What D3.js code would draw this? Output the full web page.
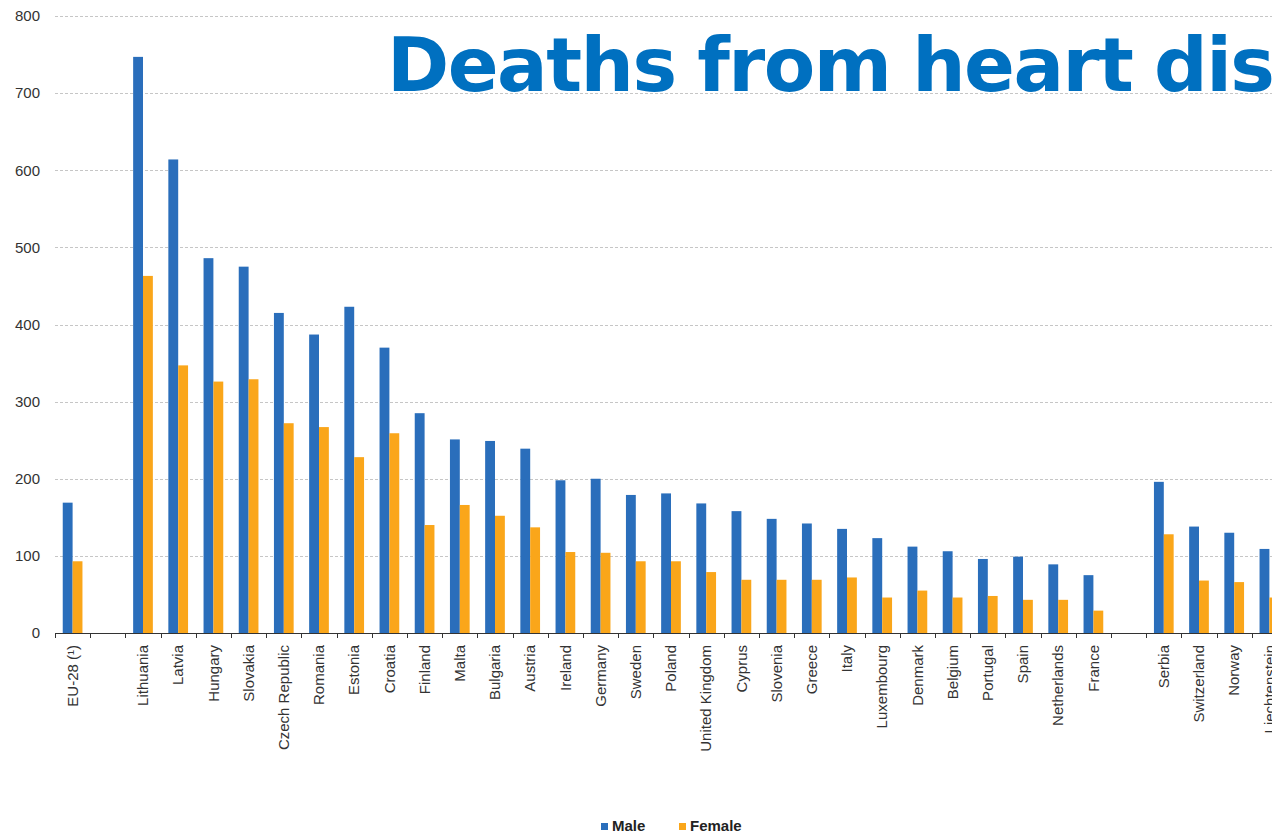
<!DOCTYPE html>
<html>
<head>
<meta charset="utf-8">
<script src="https://cdn.jsdelivr.net/npm/d3@7/dist/d3.min.js"></script>
<style>
	html, body { margin: 0; padding: 0; background: #ffffff; overflow: hidden; }
	svg { display: block; }
	.tick-label { font-family: "Liberation Sans", Arial, sans-serif; font-size: 15px; fill: #333333; }
	.legend-label { font-family: "Liberation Sans", Arial, sans-serif; font-size: 15px; font-weight: bold; fill: #222222; }
	.title { font-family: "DejaVu Sans", Verdana, sans-serif; font-weight: bold; font-size: 75px; fill: #0070c0; letter-spacing: -1.5px; word-spacing: -3px; }
</style>
</head>
<body>
<svg id="chart"></svg>
<script>
// Chart data.
var categories = ["EU-28 (\u00b9)", "", "Lithuania", "Latvia", "Hungary", "Slovakia", "Czech Republic", "Romania",
	"Estonia", "Croatia", "Finland", "Malta", "Bulgaria", "Austria", "Ireland", "Germany", "Sweden", "Poland",
	"United Kingdom", "Cyprus", "Slovenia", "Greece", "Italy", "Luxembourg", "Denmark", "Belgium", "Portugal",
	"Spain", "Netherlands", "France", "", "Serbia", "Switzerland", "Norway", "Liechtenstein"];
var maleValues = [169, null, 747, 614, 486, 475, 415, 387, 423, 370, 285, 251, 249, 239, 198, 200, 179, 181,
	168, 158, 148, 142, 135, 123, 112, 106, 96, 99, 89, 75, null, 196, 138, 130, 109];
var femaleValues = [93, null, 463, 347, 326, 329, 272, 267, 228, 259, 140, 166, 152, 137, 105, 104, 93, 93,
	79, 69, 69, 69, 72, 46, 55, 46, 48, 43, 43, 29, null, 128, 68, 66, 46];
var seriesNames = ["Male", "Female"];
var seriesColors = ["#2a6ebb", "#faa61a"];
var yTicks = [0, 100, 200, 300, 400, 500, 600, 700, 800];
var titleText = "Deaths from heart disease";

// Definitions.
var width = 1272;
var height = 835;
var plotLeft = 55;
var plotTop = 16;
var plotBottom = 633;
var bandStep = 35.2;

var svg = d3.select("#chart")
	.attr("width", width)
	.attr("height", height);

var x0 = d3.scaleBand()
	.domain(d3.range(categories.length))
	.range([plotLeft, plotLeft + bandStep * categories.length])
	.padding(0);
var xSub = d3.scaleBand()
	.domain(seriesNames)
	.range([x0.bandwidth() * 0.22, x0.bandwidth() * 0.78])
	.padding(0);
var y = d3.scaleLinear()
	.domain([0, 800])
	.range([plotBottom, plotTop]);

// Gridlines.
svg.append("g")
	.selectAll("line")
	.data(yTicks.filter(function(d) { return d > 0; }))
	.enter()
	.append("line")
	.attr("x1", plotLeft)
	.attr("x2", width)
	.attr("y1", function(d) { return Math.round(y(d)) + 0.5; })
	.attr("y2", function(d) { return Math.round(y(d)) + 0.5; })
	.attr("stroke", "#c6c6c6")
	.attr("stroke-dasharray", "3,2");

// Y axis labels.
var yAxis = svg.append("g")
	.attr("transform", "translate(" + plotLeft + ",0)")
	.call(d3.axisLeft(y).tickValues(yTicks).tickSize(0).tickPadding(15));
yAxis.select(".domain").remove();
yAxis.selectAll("text")
	.attr("class", "tick-label")
	.attr("font-family", null)
	.attr("font-size", null);

// Bars.
var groups = svg.append("g")
	.selectAll("g")
	.data(d3.range(categories.length).filter(function(i) { return maleValues[i] != null; }))
	.enter()
	.append("g")
	.attr("transform", function(i) { return "translate(" + x0(i) + ",0)"; });
groups.selectAll("rect")
	.data(function(i) { return [{ s: 0, v: maleValues[i] }, { s: 1, v: femaleValues[i] }]; })
	.enter()
	.append("rect")
	.attr("x", function(d) { return xSub(seriesNames[d.s]); })
	.attr("width", xSub.bandwidth())
	.attr("y", function(d) { return y(d.v); })
	.attr("height", function(d) { return plotBottom - y(d.v); })
	.attr("fill", function(d) { return seriesColors[d.s]; });

// X axis: labels at band centres, ticks on band boundaries.
var xAxis = svg.append("g")
	.attr("transform", "translate(0," + plotBottom + ")")
	.call(d3.axisBottom(x0).tickSize(0).tickFormat(function(i) { return categories[i]; }));
xAxis.select(".domain").remove();
xAxis.selectAll("text")
	.attr("class", "tick-label")
	.attr("font-family", null)
	.attr("font-size", null)
	.attr("transform", "rotate(-90)")
	.attr("x", -12)
	.attr("y", 0)
	.attr("dy", "0.35em")
	.style("text-anchor", "end");

svg.append("g")
	.selectAll("line")
	.data(d3.range(categories.length + 1))
	.enter()
	.append("line")
	.attr("x1", function(i) { return Math.round(plotLeft + i * x0.step()) + 0.5; })
	.attr("x2", function(i) { return Math.round(plotLeft + i * x0.step()) + 0.5; })
	.attr("y1", plotBottom)
	.attr("y2", plotBottom + 5)
	.attr("stroke", "#333333");

svg.append("line")
	.attr("x1", plotLeft)
	.attr("x2", width)
	.attr("y1", plotBottom + 0.5)
	.attr("y2", plotBottom + 0.5)
	.attr("stroke", "#333333");

// Legend.
var legendX = [601, 679];
var legend = svg.append("g")
	.selectAll("g")
	.data(seriesNames)
	.enter()
	.append("g")
	.attr("transform", function(d, i) { return "translate(" + legendX[i] + ",823)"; });
legend.append("rect")
	.attr("width", 7)
	.attr("height", 7)
	.attr("fill", function(d, i) { return seriesColors[i]; });
legend.append("text")
	.attr("class", "legend-label")
	.attr("x", 11)
	.attr("y", 8)
	.text(function(d) { return d; });

// Title (runs off the right edge, as in the source).
svg.append("text")
	.attr("class", "title")
	.attr("x", 387)
	.attr("y", 91)
	.text(titleText);
</script>
</body>
</html>
